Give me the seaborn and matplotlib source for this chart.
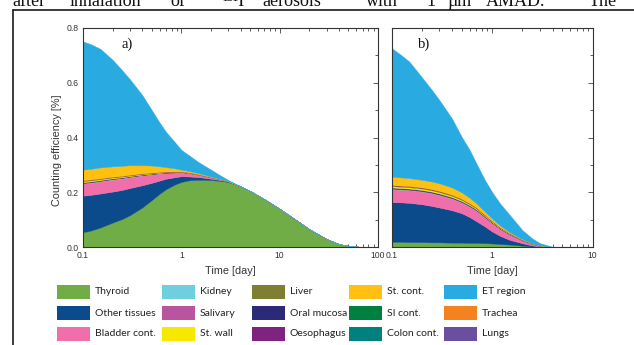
import matplotlib.pyplot as plt
import seaborn as sns
from matplotlib.lines import Line2D
from matplotlib.patches import Rectangle
from matplotlib.ticker import LogLocator, MultipleLocator, NullFormatter

sns.set_theme(style="ticks")
plt.rcParams["font.family"] = ["Liberation Sans", "DejaVu Sans"]

# ---- panel a) : layer thickness (counting efficiency, %) vs time (day)
a_time = [0.1, 0.12, 0.15, 0.2, 0.25, 0.3, 0.4, 0.5, 0.6, 0.7, 0.85, 1, 1.2, 1.5,
          2, 2.5, 3, 4, 5, 7, 10, 15, 20, 30, 40, 50, 70, 100]
a_thyroid = [.055, .061, .072, .090, .103, .117, .145, .172, .195, .212, .228, .238, .244, .246,
             .245, .242, .238, .222, .205, .175, .140, .097, .066, .030, .012, .005, .001, 0]
a_other = [.133, .130, .124, .113, .106, .099, .081, .063, .048, .038, .027, .021, .014, .010,
           .005, .003, .002, 0, 0, 0, 0, 0, 0, 0, 0, 0, 0, 0]
a_bladder = [.044, .044, .044, .044, .042, .040, .036, .031, .026, .021, .017, .014, .012, .008,
             .005, .003, .001, 0, 0, 0, 0, 0, 0, 0, 0, 0, 0, 0]
a_kidney = [.001, .001, .001, .001, .0008, .0007, .0006, .0005, .0004, .0004, .0003, .0003, .0002, .0002,
            .0001, .0001, 0, 0, 0, 0, 0, 0, 0, 0, 0, 0, 0, 0]
a_salivary = [.002, .002, .0019, .0017, .0015, .0014, .0012, .001, .0009, .0008, .0007, .0005, .0005, .0003,
              .0002, .0001, 0, 0, 0, 0, 0, 0, 0, 0, 0, 0, 0, 0]
a_oral = [.002, .002, .0018, .0016, .0015, .0013, .0011, .001, .0008, .0008, .0006, .0005, .0005, .0003,
          .0002, .0001, 0, 0, 0, 0, 0, 0, 0, 0, 0, 0, 0, 0]
a_stwall = [.004, .004, .0036, .0033, .003, .0026, .0023, .002, .0016, .0016, .0013, .001, .001, .0007,
            .0003, .0003, 0, 0, 0, 0, 0, 0, 0, 0, 0, 0, 0, 0]
a_liver = [.0025, .0025, .0023, .0021, .0019, .0017, .0015, .0013, .0011, .0011, .0009, .0006, .0006, .0004,
           .0002, .0002, 0, 0, 0, 0, 0, 0, 0, 0, 0, 0, 0, 0]
a_oeso = [.0005, .0005, .0004, .0003, .0003, .0003, .0003, .0002, .0002, .0002, .0002, .0001, .0002, .0001,
          0, 0, 0, 0, 0, 0, 0, 0, 0, 0, 0, 0, 0, 0]
a_stcont = [.039, .039, .040, .038, .037, .035, .030, .026, .021, .016, .012, .007, .005, .004,
            .002, .001, .001, 0, 0, 0, 0, 0, 0, 0, 0, 0, 0, 0]
a_et = [.467, .454, .432, .388, .348, .313, .256, .202, .160, .128, .097, .072, .057, .040,
        .025, .012, .003, 0, 0, 0, 0, 0, 0, 0, 0, 0, 0, 0]

# ---- panel b)
b_time = [0.1, 0.12, 0.15, 0.2, 0.25, 0.3, 0.4, 0.5, 0.6, 0.7, 0.85, 1, 1.2, 1.5,
          2, 2.5, 3, 4, 5, 7, 10]
b_thyroid = [.020, .020, .019, .019, .018, .018, .017, .017, .016, .016, .015, .014, .012, .010,
             .006, .003, .001, 0, 0, 0, 0]
b_other = [.145, .144, .143, .138, .133, .127, .118, .107, .094, .079, .061, .044, .030, .017,
           .009, .004, .001, 0, 0, 0, 0]
b_bladder = [.047, .046, .046, .046, .046, .045, .042, .039, .038, .038, .033, .030, .025, .019,
             .010, .005, .003, 0, 0, 0, 0]
b_kidney = [.001, .001, .001, .001, .001, .001, .001, .001, .001, .001, .0006, .0005, .0004, .0003,
            .0002, .0001, 0, 0, 0, 0, 0]
b_salivary = [.002, .002, .002, .002, .002, .002, .002, .0017, .0016, .0015, .0012, .001, .0008, .0007,
              .0004, .0003, .0001, 0, 0, 0, 0]
b_oral = [.003, .003, .003, .003, .003, .003, .0028, .0026, .0024, .0022, .0018, .0016, .0012, .001,
          .0006, .0004, .0002, 0, 0, 0, 0]
b_stwall = [.005, .005, .005, .005, .005, .005, .0046, .0043, .004, .0036, .003, .0027, .002, .0017,
            .001, .0007, .0004, 0, 0, 0, 0]
b_liver = [.003, .003, .003, .003, .003, .003, .0028, .0026, .0024, .0022, .0018, .0016, .0012, .001,
           .0006, .0004, .0002, 0, 0, 0, 0]
b_oeso = [.001, .001, .001, .001, .001, .001, .0008, .0008, .0008, .0006, .0006, .0006, .0004, .0003,
          .0002, .0001, .0001, 0, 0, 0, 0]
b_stcont = [.030, .030, .029, .028, .028, .028, .027, .024, .020, .016, .012, .009, .007, .004,
            .002, .001, .001, .001, 0, 0, 0]
b_et = [.469, .450, .425, .374, .335, .303, .251, .202, .174, .145, .115, .097, .080, .063,
        .033, .018, .008, .001, 0, 0, 0]

# legend entries, column by column
legend_cols = [
    ["Thyroid", "Other tissues", "Bladder cont."],
    ["Kidney", "Salivary", "St. wall"],
    ["Liver", "Oral mucosa", "Oesophagus"],
    ["St. cont.", "SI cont.", "Colon cont."],
    ["ET region", "Trachea", "Lungs"],
]

colors = {
    "Thyroid": "#70ad47", "Other tissues": "#0b4b8c", "Bladder cont.": "#f06fab",
    "Kidney": "#6fcfdf", "Salivary": "#b9559f", "St. wall": "#f7e800",
    "Liver": "#7f7f32", "Oral mucosa": "#2b2a78", "Oesophagus": "#7e2480",
    "St. cont.": "#ffc012", "SI cont.": "#00803f", "Colon cont.": "#00807e",
    "ET region": "#29abe2", "Trachea": "#f58220", "Lungs": "#6a4fa0",
}
stack_order = ["Thyroid", "Other tissues", "Bladder cont.", "Kidney", "Salivary",
               "Oral mucosa", "St. wall", "Liver", "Oesophagus", "St. cont.", "ET region"]

W, H = 634, 345
fig = plt.figure(figsize=(W / 100, H / 100), dpi=100)
fig.patch.set_facecolor("white")


def draw_panel(ax, t, layers, xmax, ticks, tick_labels, tag, show_y):
    ax.stackplot(t, *layers, colors=[colors[k] for k in stack_order],
                 linewidth=0.3, edgecolor="face")
    ax.set_xscale("log")
    ax.set_xlim(0.1, xmax)
    ax.set_ylim(0, 0.8)
    ax.set_xticks(ticks)
    ax.set_xticklabels(tick_labels)
    ax.xaxis.set_minor_locator(LogLocator(base=10, subs=range(2, 10)))
    ax.xaxis.set_minor_formatter(NullFormatter())
    ax.set_yticks([0.0, 0.2, 0.4, 0.6, 0.8])
    ax.yaxis.set_minor_locator(MultipleLocator(0.1))
    if show_y:
        ax.set_yticklabels(["0.0", "0.2", "0.4", "0.6", "0.8"])
    else:
        ax.set_yticklabels([])
    ax.tick_params(which="both", direction="in", top=True, right=True,
                   color="#444444", width=0.6, labelsize=6.2, labelcolor="#333333", pad=3)
    ax.tick_params(which="major", length=3.5)
    ax.tick_params(which="minor", length=2)
    for s in ax.spines.values():
        s.set_linewidth(0.8)
        s.set_color("#333333")
    ax.set_facecolor("white")
    ax.set_xlabel("Time [day]", fontsize=7.8, color="#333333", labelpad=4)
    ax.text(0.13, 0.925, tag, transform=ax.transAxes, fontsize=10.5,
            family="Liberation Serif", va="center", ha="left", color="#111111")


ax_a = fig.add_axes([83 / W, (H - 247.3) / H, 295 / W, 219.6 / H])
draw_panel(ax_a, a_time,
           [a_thyroid, a_other, a_bladder, a_kidney, a_salivary, a_oral,
            a_stwall, a_liver, a_oeso, a_stcont, a_et],
           100, [0.1, 1, 10, 100], ["0.1", "1", "10", "100"], "a)", True)
ax_a.set_ylabel("Counting efficiency [%]", fontsize=7.8, color="#333333")
ax_a.yaxis.set_label_coords(-0.072, 0.44)

ax_b = fig.add_axes([391.5 / W, (H - 247.3) / H, 201 / W, 219.6 / H])
draw_panel(ax_b, b_time,
           [b_thyroid, b_other, b_bladder, b_kidney, b_salivary, b_oral,
            b_stwall, b_liver, b_oeso, b_stcont, b_et],
           10, [0.1, 1, 10], ["0.1", "1", "10"], "b)", False)

# manual legend grid below the panels
col_x = [57, 162, 252, 349, 444]
row_y = [292, 313, 334]
for cx, names in zip(col_x, legend_cols):
    for ry, name in zip(row_y, names):
        fig.add_artist(Rectangle((cx / W, 1 - (ry + 7) / H), 33 / W, 14 / H,
                                 transform=fig.transFigure, facecolor=colors[name],
                                 edgecolor="none"))
        fig.text((cx + 38) / W, 1 - ry / H, name, fontsize=7.5, family="Lato",
                 va="center", ha="left", color="#222222")

# cropped caption line from the page above the figure frame
caption = [("after", 12), ("inhalation", 70), ("of", 170), ("\u00b9\u00b3\u00b9I", 222),
           ("aerosols", 262), ("with", 366), ("1", 426), ("\u00b5m", 447),
           ("AMAD.", 486), ("The", 589)]
for word, x in caption:
    fig.text(x / W, 1 - 5.5 / H, word, fontsize=13, family="Liberation Serif",
             va="baseline", ha="left", color="#111111")

# figure frame (continues past the crop)
fig.add_artist(Line2D([13 / W, 13 / W], [0, 1 - 10 / H], transform=fig.transFigure,
                      color="#1a1a1a", linewidth=1.2))
fig.add_artist(Line2D([13 / W, 1], [1 - 10 / H, 1 - 10 / H], transform=fig.transFigure,
                      color="#1a1a1a", linewidth=1.2))

fig.savefig("out.png", dpi=100)
